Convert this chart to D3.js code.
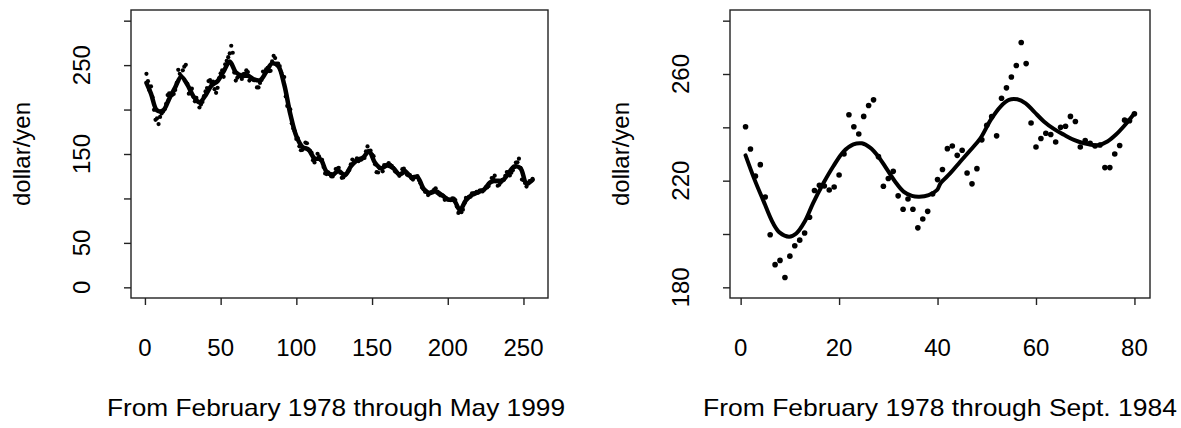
<!DOCTYPE html>
<html><head><meta charset="utf-8">
<script src="https://cdn.jsdelivr.net/npm/d3@7"></script>
<style>
body{margin:0;background:#fff}
text{font-family:"Liberation Sans",Arial,Helvetica,sans-serif;fill:#000}
</style>
</head><body>
<svg id="chart" width="1181" height="428"></svg>
<script>
// Monthly dollar/yen rate, Feb 1978 (month 1) through May 1999 (month 256)
const rate = [
240.2,231.9,221.7,226.0,213.9,199.7,188.5,190.1,183.7,191.7,
195.6,197.7,200.4,206.3,216.3,218.3,218.0,216.5,217.6,222.1,
230.0,244.7,240.2,237.5,244.1,248.2,250.3,229.0,217.9,220.8,
223.5,214.3,209.3,213.1,209.3,202.3,205.6,208.5,215.0,220.4,
224.2,232.0,233.0,229.5,231.4,222.9,218.8,224.5,235.3,240.8,
244.0,236.8,250.9,254.8,258.9,263.2,271.8,263.9,241.6,232.6,
235.8,237.8,237.3,234.5,240.0,240.4,244.1,242.2,232.6,235.0,
234.0,233.0,233.4,224.9,224.9,230.0,233.2,242.7,242.5,245.1,
246.8,243.3,243.6,254.2,260.5,257.9,251.6,251.7,248.9,241.7,
237.1,236.5,214.7,204.1,202.8,200.1,184.6,178.8,175.6,167.0,
167.5,158.6,154.2,154.7,156.5,162.9,162.1,154.5,153.5,151.6,
143.0,140.5,144.5,150.3,147.3,143.3,143.3,135.4,128.2,127.4,
129.3,127.2,124.9,124.8,127.4,133.1,133.6,134.4,128.9,123.2,
123.6,127.2,127.8,130.4,132.0,138.4,143.8,140.4,141.5,145.1,
141.9,143.5,143.7,145.1,145.5,153.1,158.5,153.5,153.8,149.3,
147.5,138.4,129.6,129.2,133.9,133.7,130.5,137.4,137.1,138.2,
139.8,137.8,136.8,134.3,130.8,129.6,128.0,125.5,127.7,132.9,
133.5,130.8,126.8,125.8,126.2,122.6,121.2,123.9,123.9,125.0,
120.8,117.0,112.4,110.3,107.4,107.7,103.8,105.7,107.0,107.9,
109.9,111.4,106.3,105.1,103.5,104.0,102.7,98.5,100.0,98.8,
98.4,98.0,100.2,99.8,98.2,90.8,83.7,85.1,84.6,87.4,
94.7,100.6,100.4,101.9,101.9,105.8,105.8,105.9,107.4,106.5,
108.8,109.2,107.9,109.9,112.4,112.3,113.9,117.9,122.9,122.8,
125.6,119.2,114.3,115.4,117.9,120.9,121.1,125.4,129.7,129.6,
125.9,129.0,131.8,135.1,140.4,140.7,144.7,134.5,121.3,120.6,
117.4,113.3,116.6,119.4,119.8,122.0
];
const shortMonths = 80; // Feb 1978 through Sept. 1984

// Smooth curve, long series
const longSmoothX = [1,4,8,12,16,20,24,28,32,36,40,44,48,52,56,60,64,68,72,76,80,84,88,92,96,100,104,108,112,116,120,124,128,132,136,140,144,148,152,156,160,164,168,172,176,180,184,188,192,196,200,204,208,212,216,220,224,228,232,236,240,244,248,252,256];
const longSmoothY = [230,218,199,199,212,225,237,228,215,208,216,227,232,243,254,242,238,238,234,233,242,252,249,228,195,170,158,155,145,144,130,127,131,126,136,143,146,153,140,134,137,134,127,130,124,124,111,106,108,104,99,98,87,98,104,107,110,118,120,120,128,136,134,117,121];

// Smooth curve, short series
const shortSmoothX = [1,2.85,4.55,6.6,7.95,9.85,11.3,13,14.7,16.8,18.8,20.9,22.9,24.6,26.3,28,29.7,31.4,33.1,34.8,36.3,38.2,39.9,40.6,42.6,44.6,46.7,48.7,50.8,52.8,54.5,56.2,57.9,59.6,61.6,63.7,65.7,67.7,69.8,71.5,72.8,74.5,76.2,77.9,79.9];
const shortSmoothY = [229.5,220.3,212.8,204.0,200.5,199.0,200.2,204.6,211.5,219.0,225.3,230.9,233.6,234.0,232.4,229.0,224.3,219.6,215.9,214.3,214.0,214.6,216.5,219.0,222.8,227.1,231.5,235.9,242.8,247.8,250.3,250.5,249.0,245.9,242.2,239.3,237.2,235.3,234.0,233.4,233.4,234.7,237.2,240.5,245.0];

const longXTicks = [0,50,100,150,200,250];
const longYTicks = [0,50,100,150,200,250,300];
const longYLabels = [0,50,150,250];
const longYLim = [0,300];
const shortXTicks = [0,20,40,60,80];
const shortYTicks = [180,200,220,240,260,280];
const shortYLabels = [180,220,260];
const shortYLim = [180,280];
const longTitle = "From February 1978 through May 1999";
const shortTitle = "From February 1978 through Sept. 1984";
const yTitle = "dollar/yen";

const svg = d3.select("#chart");

function ext(lo, hi){ const d=(hi-lo)*0.04; return [lo-d, hi+d]; }

function panel(opt){
  const {left,right,top,bottom} = opt.box;
  const vals = opt.values;
  const months = d3.range(1, vals.length+1);
  const x = d3.scaleLinear().domain(ext(1, vals.length)).range([left,right]);
  const y = d3.scaleLinear().domain(ext(opt.ylim[0], opt.ylim[1])).range([bottom,top]);
  const g = svg.append("g");

  // box
  g.append("rect").attr("x",left).attr("y",top).attr("width",right-left).attr("height",bottom-top)
    .attr("fill","none").attr("stroke","#222").attr("stroke-width",1.4);

  // x axis
  const xa = d3.axisBottom(x).tickValues(opt.xTicks).tickSize(7).tickFormat("");
  const gx = g.append("g").attr("transform",`translate(0,${bottom})`).call(xa);
  gx.select(".domain").remove();
  gx.selectAll("line").attr("stroke","#222").attr("stroke-width",1.4);
  g.selectAll(".xl").data(opt.xTicks).join("text")
    .attr("x",d=>x(d)).attr("y",356).attr("text-anchor","middle")
    .style("font-size","24px").text(d=>d);

  // y axis
  const ya = d3.axisLeft(y).tickValues(opt.yTicks).tickSize(7).tickFormat("");
  const gy = g.append("g").attr("transform",`translate(${left},0)`).call(ya);
  gy.select(".domain").remove();
  gy.selectAll("line").attr("stroke","#222").attr("stroke-width",1.4);
  g.selectAll(".yl").data(opt.yLabels).join("text")
    .attr("transform",d=>`translate(${left-41},${y(d)}) rotate(-90)`)
    .attr("text-anchor","middle").style("font-size","24px").text(d=>d);

  // y title
  g.append("text").attr("transform",`translate(${left-101},154) rotate(-90)`)
    .attr("text-anchor","middle").style("font-size","24px").text(yTitle);

  // x title
  g.append("text").attr("x",opt.titleX).attr("y",416)
    .attr("textLength",opt.titleLen).attr("lengthAdjust","spacingAndGlyphs")
    .style("font-size","24px").text(opt.title);

  // points
  g.selectAll(".pt").data(months).join("circle")
    .attr("cx",d=>x(d)).attr("cy",d=>y(vals[d-1])).attr("r",opt.r).attr("fill","#000");

  // smooth line
  const line = d3.line().x(d=>x(d[0])).y(d=>y(d[1])).curve(d3.curveCatmullRom.alpha(0.5));
  g.append("path").datum(d3.zip(opt.sx, opt.sy)).attr("d",line)
    .attr("fill","none").attr("stroke","#000").attr("stroke-width",opt.lw)
    .attr("stroke-linejoin","round").attr("stroke-linecap","round");
}

panel({box:{left:131,right:548,top:10,bottom:298}, values:rate, ylim:longYLim,
  xTicks:longXTicks, yTicks:longYTicks, yLabels:longYLabels,
  sx:longSmoothX, sy:longSmoothY, r:2.1, lw:4.5, title:longTitle, titleX:107, titleLen:458});

panel({box:{left:730,right:1150,top:10,bottom:298}, values:rate.slice(0, shortMonths), ylim:shortYLim,
  xTicks:shortXTicks, yTicks:shortYTicks, yLabels:shortYLabels,
  sx:shortSmoothX, sy:shortSmoothY, r:2.8, lw:4, title:shortTitle, titleX:703, titleLen:474});
</script>
</body></html>
